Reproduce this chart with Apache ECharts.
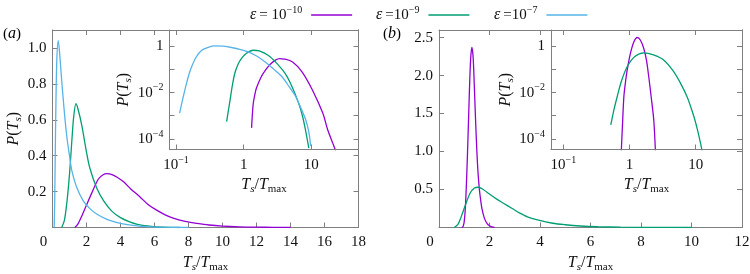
<!DOCTYPE html>
<html>
<head>
<meta charset="utf-8">
<script src="https://cdn.jsdelivr.net/npm/echarts@6.0.0/dist/echarts.min.js"></script>
<style>
  html, body { margin: 0; padding: 0; background: #fff; }
  #chart { width: 750px; height: 274px; }
</style>
</head>
<body>
<div id="chart"></div>
<script>
// series names / colours (gnuplot defaults)
const seriesNames = ['e10', 'e9', 'e7'];
const seriesColors = { e10: '#9400d3', e9: '#009e73', e7: '#56b4e9' };

// panel (a), linear axes: [Ts/Tmax, P(Ts)]
const aMainE10 = [[1.32,0],[1.5,0.02],[1.75,0.07],[2.0,0.125],[2.3,0.19],[2.7,0.27],[3.0,0.295],[3.2,0.30],[3.5,0.295],[3.8,0.28],[4.2,0.253],[4.6,0.215],[5.15,0.17],[5.6,0.13],[6.1,0.098],[6.6,0.072],[7.1,0.052],[7.8,0.034],[8.5,0.023],[9.2,0.014],[10,0.008],[11,0.004],[12,0.002],[13,0.001],[14,0.0005]];
const aMainE9 = [[0.54,0],[0.7,0.04],[0.84,0.135],[0.95,0.24],[1.05,0.36],[1.15,0.5],[1.25,0.62],[1.38,0.69],[1.5,0.66],[1.72,0.57],[2.0,0.42],[2.2,0.33],[2.6,0.22],[3.0,0.15],[3.5,0.09],[4.0,0.055],[4.5,0.033],[5.0,0.018],[5.7,0.008],[6.5,0.002],[7.5,0]];
const aMainE7 = [[0.10,0],[0.13,0.15],[0.18,0.55],[0.25,0.92],[0.34,1.04],[0.42,0.97],[0.54,0.82],[0.7,0.64],[0.85,0.5],[1.0,0.40],[1.13,0.32],[1.4,0.23],[1.8,0.15],[2.2,0.105],[2.6,0.075],[3.2,0.045],[3.8,0.027],[4.4,0.016],[5.1,0.008],[5.8,0.004],[6.5,0.002],[8,0]];

// panel (a) inset, log-log
const aInsetE10 = [[1.31,3e-4],[1.38,0.003],[1.46,0.008],[1.55,0.016],[1.8,0.045],[2.1,0.093],[2.5,0.17],[2.95,0.25],[3.4,0.29],[4.0,0.28],[5.3,0.21],[7.3,0.079],[10.4,0.013],[14.8,1.3e-3],[17.5,2.5e-4],[20.8,6.6e-5],[23,3e-5]];
const aInsetE9 = [[0.56,5.6e-4],[0.6,0.002],[0.63,0.0048],[0.68,0.02],[0.74,0.068],[0.82,0.16],[0.93,0.30],[1.1,0.5],[1.39,0.67],[1.7,0.63],[2.3,0.41],[3.0,0.2],[4.1,0.067],[5.2,0.018],[6.5,0.0035],[7.4,0.001],[8.2,2.5e-4],[9.2,4e-5]];
const aInsetE7 = [[0.113,1.3e-3],[0.125,0.005],[0.14,0.02],[0.155,0.06],[0.17,0.13],[0.2,0.35],[0.24,0.67],[0.3,0.9],[0.37,1.03],[0.5,1.0],[0.66,0.88],[0.9,0.72],[1.17,0.57],[1.6,0.36],[2.08,0.21],[2.8,0.1],[3.7,0.048],[4.7,0.018],[5.9,0.0066],[7,0.0022],[8.3,6.6e-4],[9.2,2e-4],[9.8,5e-5]];

// panel (b), linear
const bMainE10 = [[0.9,0],[0.95,0.01],[1.0,0.08],[1.05,0.30],[1.1,0.70],[1.15,1.20],[1.2,1.75],[1.25,2.20],[1.3,2.37],[1.35,2.25],[1.4,1.85],[1.45,1.40],[1.5,1.00],[1.55,0.70],[1.6,0.50],[1.65,0.36],[1.7,0.25],[1.8,0.12],[1.9,0.055],[2.0,0.022],[2.1,0.008],[2.2,0.002]];
const bMainE9 = [[0.6,0],[0.75,0.04],[0.9,0.16],[1.05,0.3],[1.23,0.45],[1.4,0.52],[1.56,0.53],[1.75,0.5],[2.0,0.44],[2.3,0.37],[2.55,0.32],[2.9,0.25],[3.2,0.19],[3.5,0.14],[3.9,0.1],[4.5,0.056],[5.0,0.036],[5.6,0.02],[6.3,0.01],[7.2,0.004],[8.5,0.001],[10,0.0002]];

// panel (b) inset, log-log
const bInsetE10 = [[0.75,3e-5],[0.78,3.5e-4],[0.82,0.0066],[0.87,0.03],[0.92,0.093],[1.03,0.49],[1.16,1.53],[1.31,2.37],[1.46,1.8],[1.64,0.8],[1.8,0.25],[1.95,0.048],[2.12,0.0066],[2.32,6.6e-4],[2.46,3e-5]];
const bInsetE9 = [[0.52,4e-4],[0.58,0.0018],[0.65,0.0066],[0.75,0.03],[0.92,0.13],[1.2,0.36],[1.64,0.52],[2.3,0.42],[3.3,0.25],[4.5,0.09],[5.9,0.025],[7.5,0.006],[9.4,9e-4],[10.6,2.5e-4],[11.8,6.6e-5],[12.5,3e-5]];

const FONT = '"Liberation Serif", "Times New Roman", serif';
const AXIS_GREY = '#7f7f7f';
const INK = '#111';

const titleRich = {
  it:   { fontFamily: FONT, fontStyle: 'italic', fontSize: 16, color: INK, lineHeight: 20 },
  rm:   { fontFamily: FONT, fontSize: 16, color: INK, lineHeight: 20 },
  sub:  { fontFamily: FONT, fontStyle: 'italic', fontSize: 11, color: INK, lineHeight: 11, verticalAlign: 'bottom' },
  subr: { fontFamily: FONT, fontSize: 11, color: INK, lineHeight: 11, verticalAlign: 'bottom' }
};
const X_TITLE = '{it|T}{sub|s}{rm|/}{it|T}{subr|max}';
const Y_TITLE = '{it|P}{rm|(}{it|T}{sub|s}{rm|)}';

const labelRich = {
  b:   { fontFamily: FONT, fontSize: 15, color: INK, lineHeight: 20 },
  sup: { fontFamily: FONT, fontSize: 10, color: INK, lineHeight: 10, verticalAlign: 'top' },
  z:   { fontFamily: FONT, fontSize: 15, color: INK, lineHeight: 20, padding: [0, 18, 0, 0] }
};

function powLabel(v, skipOdd) {
  const l = Math.log10(v);
  const e = Math.round(l);
  if (Math.abs(l - e) > 1e-6) return '';
  if (skipOdd && e % 2 !== 0) return '';
  if (e === 0) return '{b|1}';
  if (e === 1) return '{b|10}';
  return '{b|10}{sup|' + (e < 0 ? '\u2212' : '') + Math.abs(e) + '}';
}

function frameAxis(grid, pos, extra) {
  return Object.assign({
    gridIndex: grid, position: pos, z: grid % 2 ? 7 : 1,
    axisLine: { show: true, onZero: false, lineStyle: { color: AXIS_GREY, width: 1 } },
    axisTick: { show: true, inside: true, length: 5, lineStyle: { color: AXIS_GREY } },
    splitLine: { show: false },
    axisLabel: { show: false }
  }, extra);
}

function linX(grid, max, name) {
  const base = { type: 'value', min: 0, max: max, interval: 2 };
  return [
    frameAxis(grid, 'bottom', Object.assign({}, base, {
      axisLabel: {
        show: true, margin: 5, fontFamily: FONT, rich: labelRich,
        formatter: function (v) { return v === 0 ? '{z|0}' : '{b|' + v + '}'; }
      },
      name: name, nameLocation: 'middle', nameGap: 22, nameTextStyle: { rich: titleRich }
    })),
    frameAxis(grid, 'top', base)
  ];
}

function linY(grid, max, interval, name) {
  const base = { type: 'value', min: 0, max: max, interval: interval };
  return [
    frameAxis(grid, 'left', Object.assign({}, base, {
      axisLabel: {
        show: true, margin: 6, fontFamily: FONT, rich: labelRich,
        showMinLabel: false, showMaxLabel: false,
        formatter: function (v) { return '{b|' + v.toFixed(1) + '}'; }
      },
      name: name || '', nameLocation: 'middle', nameRotate: 90, nameGap: 25,
      nameTextStyle: { rich: titleRich }
    })),
    frameAxis(grid, 'right', base)
  ];
}

function logAxis(grid, pos, min, max, labelled, skipOdd, name, gap) {
  const base = { type: 'log', logBase: 10, min: min, max: max };
  const ax = frameAxis(grid, pos, base);
  if (labelled) {
    ax.axisLabel = {
      show: true, margin: 6, fontFamily: FONT, rich: labelRich, showMinLabel: false, showMaxLabel: false,
      formatter: function (v) { return powLabel(v, skipOdd); }
    };
    ax.name = name;
    ax.nameLocation = 'middle';
    ax.nameGap = gap;
    ax.nameTextStyle = { rich: titleRich };
    if (pos === 'left') ax.nameRotate = 90;
  }
  return ax;
}

function line(name, data, xi, yi, z) {
  const c = seriesColors[name];
  return {
    name: name, type: 'line', data: data, xAxisIndex: xi, yAxisIndex: yi, z: z,
    symbol: 'none', showSymbol: false, smooth: 0.3, animation: false,
    itemStyle: { color: c }, lineStyle: { color: c, width: 1.3 }
  };
}

const legendText = {
  e10: '{i|\u03b5} {r|= 10}{sup|\u221210}{g|}',
  e9:  '{i|\u03b5} {r|=10}{sup|\u22129}{g|}',
  e7:  '{i|\u03b5} {r|=10}{sup|\u22127}{g|}'
};
const legendRich = {
  i:   { fontFamily: FONT, fontStyle: 'italic', fontSize: 16, color: INK, lineHeight: 20 },
  r:   { fontFamily: FONT, fontSize: 15, color: INK, lineHeight: 20 },
  sup: { fontFamily: FONT, fontSize: 10, color: INK, lineHeight: 10, verticalAlign: 'top' },
  g:   { width: 4 }
};
const legendLeft = { e10: 250, e9: 376, e7: 494 };

const chart = echarts.init(document.getElementById('chart'), null, { renderer: 'canvas' });

const grids = [
  { left: 52.5, top: 30, width: 306, height: 197.5 },          // (a) main
  { left: 169.5, top: 30, width: 189, height: 119.5, show: true, backgroundColor: '#fff', borderWidth: 0, z: 5 }, // (a) inset
  { left: 439, top: 30, width: 303, height: 197.5 },            // (b) main
  { left: 551, top: 30, width: 191, height: 119.5, show: true, backgroundColor: '#fff', borderWidth: 0, z: 5 }    // (b) inset
].map(function (g) { return Object.assign({ containLabel: false, outerBoundsMode: 'none' }, g); });

const xAxes = [].concat(
  linX(0, 18, X_TITLE),
  [logAxis(1, 'bottom', 0.08, 50, true, false, X_TITLE, 25), logAxis(1, 'top', 0.08, 50, false)],
  linX(2, 12, X_TITLE),
  [logAxis(3, 'bottom', 0.065, 50, true, false, X_TITLE, 25), logAxis(3, 'top', 0.065, 50, false)]
);
const yAxes = [].concat(
  linY(0, 1.1, 0.2, Y_TITLE),
  [logAxis(1, 'left', 3.5e-5, 5, true, true, Y_TITLE, 33), logAxis(1, 'right', 3.5e-5, 5, false)],
  linY(2, 2.6, 0.5, ''),
  [logAxis(3, 'left', 3.5e-5, 5, true, true, Y_TITLE, 34), logAxis(3, 'right', 3.5e-5, 5, false)]
);

chart.setOption({
  animation: false,
  backgroundColor: '#fff',
  textStyle: { fontFamily: FONT },
  grid: grids,
  xAxis: xAxes,
  yAxis: yAxes,
  legend: seriesNames.map(function (n) {
    return {
      data: [n], left: legendLeft[n], top: 5, padding: 0, align: 'right',
      icon: 'rect', itemWidth: 41, itemHeight: 1.5, selectedMode: false,
      formatter: function (name) { return legendText[name]; },
      textStyle: { fontFamily: FONT, rich: legendRich }
    };
  }),
  graphic: [
    { type: 'text', left: 3, top: 26, style: { text: '{r|(}{i|a}{r|)}', rich: legendRich } },
    { type: 'text', left: 383, top: 26, style: { text: '{r|(}{i|b}{r|)}', rich: legendRich } }
  ],
  series: [
    line('e10', aMainE10, 0, 0, 2),
    line('e9',  aMainE9,  0, 0, 2),
    line('e7',  aMainE7,  0, 0, 2),
    line('e10', aInsetE10, 2, 2, 6),
    line('e9',  aInsetE9,  2, 2, 6),
    line('e7',  aInsetE7,  2, 2, 6),
    line('e10', bMainE10, 4, 4, 2),
    line('e9',  bMainE9,  4, 4, 2),
    line('e10', bInsetE10, 6, 6, 6),
    line('e9',  bInsetE9,  6, 6, 6)
  ]
});
</script>
</body>
</html>
